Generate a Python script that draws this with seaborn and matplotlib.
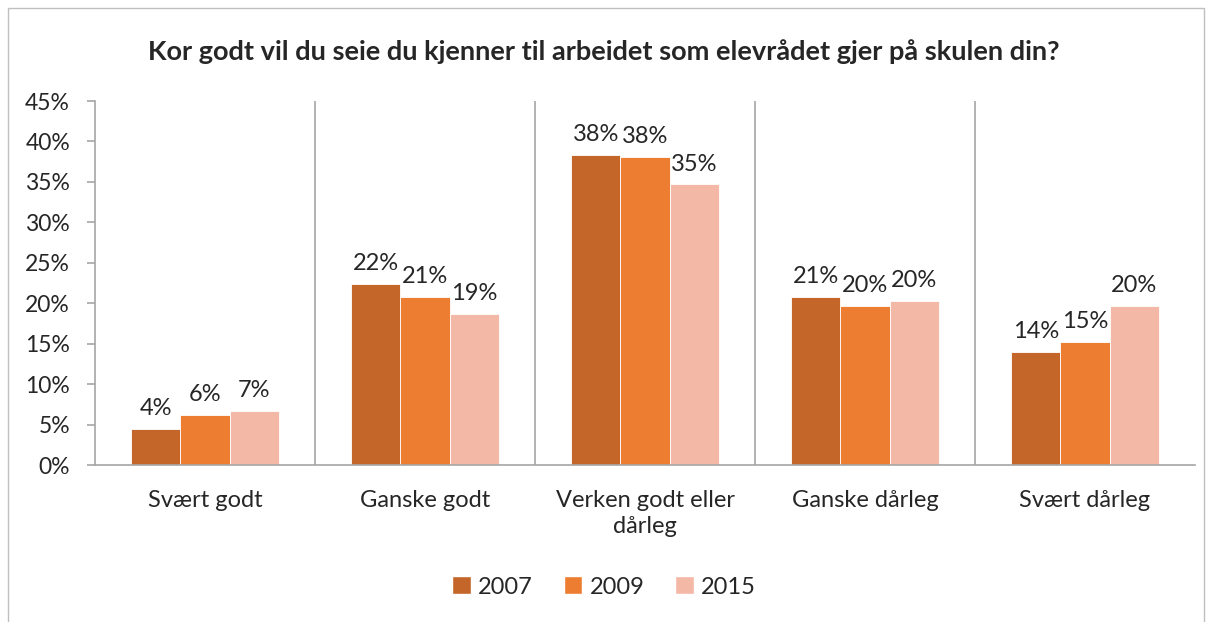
import pandas as pd
import matplotlib.pyplot as plt
import seaborn as sns
from matplotlib.patches import Rectangle
from matplotlib.ticker import FixedLocator

# Data
categories = ["Svært godt", "Ganske godt", "Verken godt eller\ndårleg", "Ganske dårleg", "Svært dårleg"]
years = ["2007", "2009", "2015"]
values_2007 = [4.5, 22.4, 38.3, 20.8, 14.0]
values_2009 = [6.2, 20.8, 38.1, 19.7, 15.2]
values_2015 = [6.7, 18.7, 34.7, 20.3, 19.7]
colors = ["#C4652A", "#ED7D31", "#F4B8A6"]

df = pd.DataFrame({
    "kategori": categories * 3,
    "aar": [y for y in years for _ in categories],
    "verdi": values_2007 + values_2009 + values_2015,
})

sns.set_style("white")
plt.rcParams["font.family"] = ["Lato", "DejaVu Sans"]

fig = plt.figure(figsize=(12.08, 6.22), dpi=100)
ax = fig.add_axes([95 / 1208, 1 - 465 / 622, 1100 / 1208, 364 / 622])

sns.barplot(data=df, x="kategori", y="verdi", hue="aar", palette=colors,
            width=0.67, saturation=1, ax=ax, legend=True)

for cont in ax.containers:
    for bar in cont:
        bar.set_edgecolor("white")
        bar.set_linewidth(0.6)
    ax.bar_label(cont, labels=[f"{v:.0f}%" for v in cont.datavalues],
                 padding=7, fontsize=17)

ax.set_ylim(0, 45)
ax.set_xlim(-0.5, len(categories) - 0.5)
ax.set_yticks(range(0, 50, 5))
ax.set_yticklabels([f"{t}%" for t in range(0, 50, 5)], fontsize=16.5)
ax.set_xticks(range(len(categories)))
ax.set_xticklabels(categories, fontsize=17, linespacing=1.3, va="top")
ax.set_xlabel("")
ax.set_ylabel("")

# vertical gridlines between categories, like the original
bounds = [i + 0.5 for i in range(len(categories) - 1)]
for b in bounds:
    ax.axvline(b, color="#A6A6A6", lw=1.2, zorder=0)
ax.xaxis.set_minor_locator(FixedLocator([-0.5] + bounds + [len(categories) - 0.5]))
ax.tick_params(axis="x", which="major", length=0, pad=18)
ax.tick_params(axis="x", which="minor", length=7, color="#A6A6A6", width=1.2, direction="out")
ax.tick_params(axis="y", length=6, color="#A6A6A6", width=1.2, direction="out", left=True, pad=12)

for side in ["top", "right"]:
    ax.spines[side].set_visible(False)
for side in ["left", "bottom"]:
    ax.spines[side].set_color("#A6A6A6")
    ax.spines[side].set_linewidth(1.2)

handles, labels = ax.get_legend_handles_labels()
ax.legend(handles, labels, loc="center", bbox_to_anchor=(0.5, 1 - 587 / 622),
          bbox_transform=fig.transFigure, ncol=3, frameon=False, fontsize=17,
          handlelength=0.8, handleheight=0.8, columnspacing=1.3, handletextpad=0.3)

fig.text(0.5, 1 - 52 / 622, "Kor godt vil du seie du kjenner til arbeidet som elevrådet gjer på skulen din?",
         ha="center", va="center", fontsize=19.5, fontweight="bold")

fig.patches.append(Rectangle((8 / 1208, -0.01), 1196 / 1208, 1 - 8 / 622 + 0.01,
                             transform=fig.transFigure, fill=False,
                             edgecolor="#BFBFBF", lw=1))

fig.savefig("out.png", dpi=100)
